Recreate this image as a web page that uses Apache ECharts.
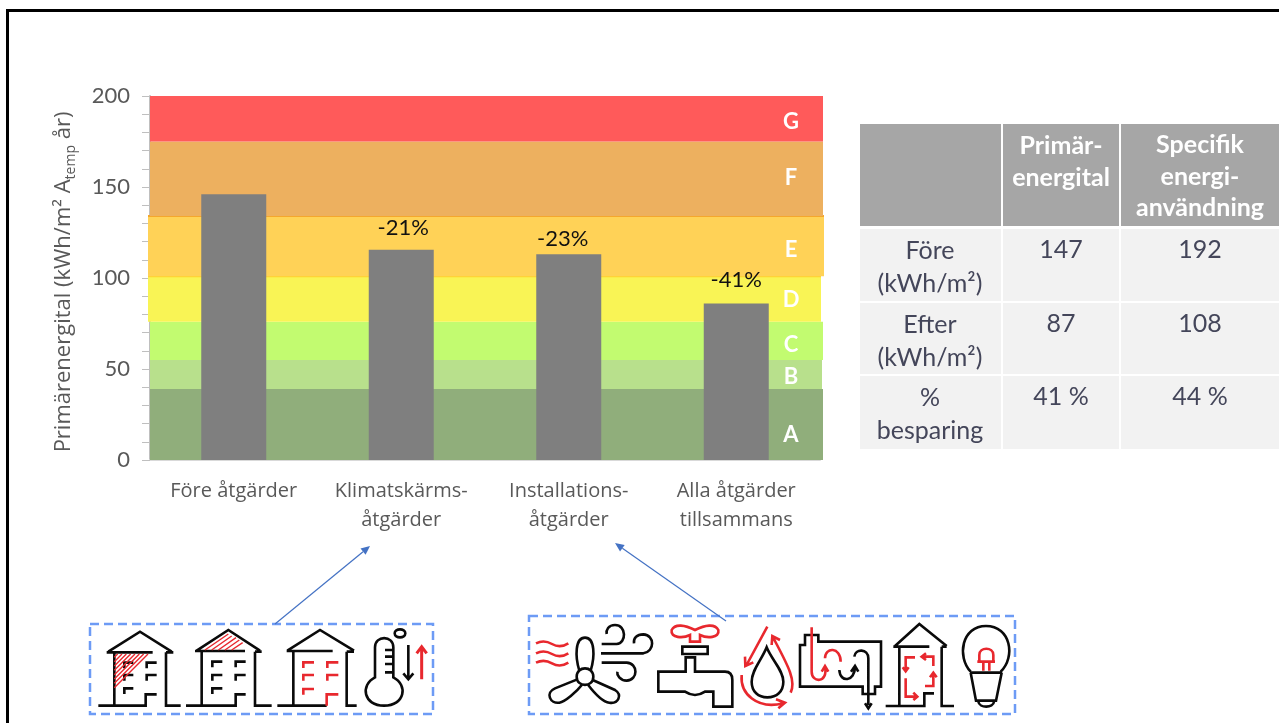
<!DOCTYPE html>
<html>
<head>
<meta charset="utf-8">
<style>
html,body{margin:0;padding:0;background:#fff;}
#main{width:1279px;height:723px;}
</style>
<script src="https://cdn.jsdelivr.net/npm/echarts@6/dist/echarts.min.js"></script>
</head>
<body>
<div id="main"></div>
<script>
var categories = ['Före åtgärder', 'Klimatskärms-\nåtgärder', 'Installations-\nåtgärder', 'Alla åtgärder\ntillsammans'];
var primaryValues = [146, 115.5, 113, 86];
var percentLabels = ['', '-21%', '-23%', '-41%'];

var bandNames = ['A', 'B', 'C', 'D', 'E', 'F', 'G'];
var bandLow = [0, 39, 55, 76, 101, 134, 175];
var bandHigh = [39, 55, 76, 101, 134, 175, 200];
var bandLabelAt = [14, 45.5, 63.5, 88, 115.5, 155, 186];
var bandColors = ['#90ae7b', '#b8e08c', '#c2fb70', '#f9f455', '#ffd257', '#edb05f', '#ff5a5a'];
var bandEdgeColors = [null, null, null, '#ffd22e', '#f5a72c', null, null];

var tableHeader = ['', 'Primär-\nenergital', 'Specifik\nenergi-\nanvändning'];
var tableRowNames = ['Före\n(kWh/m²)', 'Efter\n(kWh/m²)', '%\nbesparing'];
var tablePrimary = ['147', '87', '41 %'];
var tableSpecific = ['192', '108', '44 %'];

var BLACK = '#0a0a0a', RED = '#e8282e', BLUE = '#4472c4', DASH = '#6d9bf5';
var FONT = 'Lato';

// label nudges, the percent labels do not sit at the same height over the bars
var labelOffsets = [[0, 0], [2, -6], [-6, 1], [0, -8]];
// bands are not quite flush with the plot in the original
var bandLeftPad = [0, 0, 0, 2, 2, 0, 0];
var bandRightPad = [3, 2, 3, 1, 4, 3, 3];

function bandItem(params, api) {
    var i = params.dataIndex;
    var cs = params.coordSys;
    var top = api.coord([0, bandHigh[i]])[1];
    var bottom = api.coord([0, bandLow[i]])[1];
    var left = cs.x - bandLeftPad[i];
    var width = cs.width + bandLeftPad[i] + bandRightPad[i];
    var children = [{
        type: 'rect',
        shape: {x: left, y: top, width: width, height: bottom - top},
        style: {fill: bandColors[i]}
    }];
    if (bandEdgeColors[i]) {
        children.push({
            type: 'rect',
            shape: {x: left, y: top - 1, width: width, height: 2},
            style: {fill: bandEdgeColors[i]}
        });
    }
    children.push({
        type: 'text',
        x: cs.x + cs.width - 29,
        y: api.coord([0, bandLabelAt[i]])[1],
        style: {
            text: bandNames[i], fill: '#fff', font: 'bold 22px ' + FONT,
            align: 'center', verticalAlign: 'middle'
        }
    });
    return {type: 'group', children: children};
}

function cell(x, y, w, h, fill) {
    return {type: 'rect', shape: {x: x, y: y, width: w, height: h}, style: {fill: fill}, silent: true};
}

function lines(text, cx, firstY, step, color, font) {
    return text.split('\n').map(function (t, n) {
        return {
            type: 'text', x: cx, y: firstY + n * step, silent: true,
            style: {
                text: t, fill: color, font: font,
                align: 'center', verticalAlign: 'middle'
            }
        };
    });
}

function buildTable() {
    var colX = [860, 1003, 1121];
    var colW = [141, 116, 158];
    var rowY = [229, 303, 376];
    var rowH = [72, 71, 73];
    var textCol = '#44465a';
    var headFont = 'bold 25px ' + FONT;
    var bodyFont = '25px ' + FONT;
    var out = [];
    for (var c = 0; c < 3; c++) {
        out.push(cell(colX[c], 124, colW[c], 102, '#a6a6a6'));
        for (var r = 0; r < 3; r++) {
            out.push(cell(colX[c], rowY[r], colW[c], rowH[r], '#f2f2f2'));
        }
    }
    out = out.concat(lines(tableHeader[1], 1061, 146, 31.5, '#fff', headFont));
    out = out.concat(lines(tableHeader[2], 1200, 145, 31.5, '#fff', headFont));
    for (var i = 0; i < 3; i++) {
        out = out.concat(lines(tableRowNames[i], 930, rowY[i] + 22, 33, textCol, bodyFont));
        out = out.concat(lines(tablePrimary[i], 1061, rowY[i] + 21, 33, textCol, bodyFont));
        out = out.concat(lines(tableSpecific[i], 1200, rowY[i] + 21, 33, textCol, bodyFont));
    }
    return out;
}

// icon paths are written in 3x pixels of a box that starts at ox,oy
function iconPath(d, ox, oy, w, h, color, lw) {
    return {
        type: 'path', silent: true,
        shape: {pathData: 'M0 0M' + w + ' ' + h + d, x: ox, y: oy, width: w / 3, height: h / 3, layout: 'cover'},
        style: {stroke: color, fill: 'none', lineWidth: lw === undefined ? 2.6 : lw}
    };
}

function hatchPath(x0, y0, cFrom, cTo, step, xMax, yMax) {
    var d = '';
    for (var c = cFrom; c <= cTo; c += step) {
        var x1 = x0, y1 = c - x0;
        var x2 = c - y0, y2 = y0;
        if (y1 > yMax) { y1 = yMax; x1 = c - yMax; }
        if (x2 > xMax) { x2 = xMax; y2 = c - xMax; }
        d += 'M' + x1 + ' ' + y1 + 'L' + x2 + ' ' + y2;
    }
    return d;
}

function iconItem() {
    var b1 = function (d, color, lw) { return iconPath(d, 80, 540, 1110, 549, color, lw); };
    var b2 = function (d, color, lw) { return iconPath(d, 520, 540, 1530, 549, color, lw); };
    return {type: 'group', children: [
        // house 1
        b1('M85 335L180 275L275 335M80 337H218M103 337V497M55 497H197V463H230M258 337V497H302M258 337H280', BLACK),
        b1('M160 368H133V385M230 368H200V385M160 405H133V422M230 405H200V422M160 445H133V462', BLACK),
        b1(hatchPath(103, 342, 455, 558, 13, 218, 455), RED, 1.4),
        // house 2
        b1('M350 332L445 270L540 332M345 333H495M365 335V497M318 497H467V463H497M525 335V497H575M525 335H545', BLACK),
        b1('M427 365H397V382M497 365H467V382M427 405H397V422M497 405H467V422M427 445H397V462', BLACK),
        b1('M375 330L445 282M395 330L455 288M415 330L468 293M435 330L478 300M455 330L488 308', RED, 1.4),
        // house 3
        b1('M622 332L720 270L822 332M620 333H758M640 335V497M592 497H740M800 335V497H830M800 335H822', BLACK),
        b1('M702 367H670V384M775 367H742V384M702 405H670V422M775 405H742V422M702 447H670V464M740 497V463H775', RED),
        // thermometer
        b1('M885 412V322C885 285 940 285 940 322V412C985 435 975 497 912 497C850 497 840 435 885 412Z', BLACK),
        b1('M940 330H915M940 350H915M940 372H915M940 397H915M944 280C944 264 976 264 976 280C976 296 944 296 944 280Z', BLACK),
        b1('M985 315V415M970 400L985 418L1000 400', BLACK),
        b1('M1025 418V322M1010 340L1025 320L1040 340', RED, 3),
        // heat waves and fan
        b2('M48 310Q72 298 96 312T145 310M48 340Q72 328 96 342T145 340M48 368Q72 356 96 370T145 368', RED),
        b2('M178 392C165 350 165 293 195 293C225 293 225 350 212 392M172 418L105 445C75 458 90 492 118 488C135 485 170 455 186 434M218 420L285 450C308 465 295 492 268 488C245 485 220 455 204 434', BLACK),
        b2('M220 410C220 443 170 443 170 410C170 377 220 377 220 410Z', BLACK),
        b2('M243 340H370C405 335 405 285 370 283C350 283 340 295 342 310M245 312H290C320 310 320 255 285 255C265 255 258 270 260 282M245 368H320C355 370 355 420 320 422C300 422 290 405 292 395', BLACK),
        // tap
        b2('M455 270C465 250 495 255 525 270C555 255 585 250 595 270C600 295 560 295 540 285V305H510V285C490 295 450 295 455 270Z', RED),
        b2('M487 320H563V342H487ZM497 352H525V395H615Q637 395 637 420V500H580V455H555Q525 475 495 455H415V395H497Z', BLACK),
        // drop with loop
        b2('M740 322C725 360 695 390 695 425C695 455 715 472 742 472C770 472 790 455 790 425C790 390 755 360 740 322Z', BLACK),
        b2('M742 260L678 378M675 350L676 378L700 367M812 458C830 420 800 370 758 290M755 315L757 288L780 300M665 405C660 460 710 510 790 490M768 478L795 488L775 505', RED),
        // heat recovery
        b2('M840 440V315H855V285H895V305H1083V440H1065V462H1028V440ZM1003 350C1005 325 1045 325 1045 355V495M1035 490L1045 505L1055 490M958 390C960 430 1005 425 1005 380M993 395L1005 378L1015 395', BLACK),
        b2('M875 262V395C875 430 925 430 915 380M905 395L915 378L925 395M915 355C915 320 962 320 962 365', RED),
        // house with circulation
        b2('M1125 318L1198 252L1280 318M1120 320H1228M1138 320V498M1097 498H1213V460H1242M1265 320V498H1302M1265 320H1280', BLACK),
        b2('M1185 352H1157V392M1148 382L1157 394L1166 382M1205 350H1240V378M1218 340L1205 350L1218 360M1157 415V470H1190M1180 458L1192 470L1180 480M1215 438H1240V400M1230 412L1240 398L1250 412', RED),
        // bulb
        b2('M1352 395C1310 350 1325 258 1398 258C1472 258 1488 350 1442 395M1350 398H1447M1352 398L1368 482H1428L1445 398M1375 485C1378 505 1420 505 1422 485', BLACK),
        b2('M1378 365V345C1378 320 1420 320 1420 345V365M1372 365H1425M1390 368V392M1408 368V392', RED)
    ]};
}

function dashBox(x, y, w, h) {
    return {
        type: 'rect', silent: true,
        shape: {x: x, y: y, width: w, height: h},
        style: {fill: 'none', stroke: DASH, lineWidth: 2.5, lineDash: [9, 5]}
    };
}

function arrow(x1, y1, x2, y2) {
    var a = Math.atan2(y2 - y1, x2 - x1);
    var len = 9, wing = 4;
    var bx = x2 - len * Math.cos(a), by = y2 - len * Math.sin(a);
    return [{
        type: 'line', silent: true,
        shape: {x1: x1, y1: y1, x2: bx, y2: by},
        style: {stroke: BLUE, lineWidth: 1.2}
    }, {
        type: 'polygon', silent: true,
        shape: {points: [[x2, y2], [bx - wing * Math.sin(a), by + wing * Math.cos(a)], [bx + wing * Math.sin(a), by - wing * Math.cos(a)]]},
        style: {fill: BLUE}
    }];
}

function frame() {
    return [
        {type: 'rect', silent: true, shape: {x: 6, y: 9, width: 1273, height: 3}, style: {fill: '#000'}},
        {type: 'rect', silent: true, shape: {x: 6, y: 9, width: 3, height: 714}, style: {fill: '#000'}}
    ];
}

var chart = echarts.init(document.getElementById('main'));
chart.setOption({
    animation: false,
    backgroundColor: '#fff',
    textStyle: {fontFamily: FONT},
    grid: {left: 150, right: 459, top: 96, bottom: 263, containLabel: false},
    xAxis: {
        type: 'category',
        data: categories,
        axisTick: {show: false},
        axisLine: {lineStyle: {color: '#d9d9d9', width: 2}},
        axisLabel: {interval: 0, color: '#595959', fontSize: 20, margin: 17, lineHeight: 29, fontFamily: 'Open Sans'}
    },
    yAxis: {
        type: 'value',
        min: 0,
        max: 200,
        interval: 50,
        splitLine: {show: false},
        axisLine: {show: true, lineStyle: {color: '#bfbfbf', width: 2}},
        axisTick: {show: true, length: 8, lineStyle: {color: '#bfbfbf'}},
        minorTick: {show: true, splitNumber: 5, length: 8, lineStyle: {color: '#bfbfbf'}},
        axisLabel: {color: '#595959', fontSize: 22, margin: 20, padding: [5, 0, 0, 0]},
        name: '{n|Primärenergital (kWh/m² A}{s|temp}{n| år)}',
        nameLocation: 'middle',
        nameRotate: 90,
        nameGap: 72,
        nameTextStyle: {
            padding: [0, 0, 0, -8],
            rich: {
                n: {color: '#595959', fontSize: 22, fontFamily: 'Open Sans', lineHeight: 28},
                s: {color: '#595959', fontSize: 14, fontFamily: 'Open Sans', lineHeight: 20, verticalAlign: 'bottom'}
            }
        }
    },
    series: [{
        type: 'custom',
        renderItem: bandItem,
        data: bandNames,
        z: 1,
        silent: true,
        clip: false,
        encode: {y: 0}
    }, {
        type: 'bar',
        z: 3,
        barWidth: 65,
        itemStyle: {color: '#7f7f7f'},
        data: primaryValues.map(function (v, i) {
            return {
                value: v,
                label: {
                    show: percentLabels[i] !== '',
                    position: 'top',
                    offset: labelOffsets[i],
                    formatter: percentLabels[i],
                    color: '#111',
                    fontSize: 22,
                    fontFamily: FONT
                }
            };
        })
    }, {
        // the little pictograms, path shapes only work in a custom series
        type: 'custom',
        coordinateSystem: 'none',
        renderItem: iconItem,
        data: [0],
        silent: true,
        z: 5
    }],
    graphic: {
        elements: frame()
            .concat(buildTable())
            .concat([dashBox(90, 624, 343, 90), dashBox(529, 616, 486, 98)])
            .concat(arrow(275, 624, 370, 546))
            .concat(arrow(726, 621, 615, 543))
    }
});
</script>
</body>
</html>
